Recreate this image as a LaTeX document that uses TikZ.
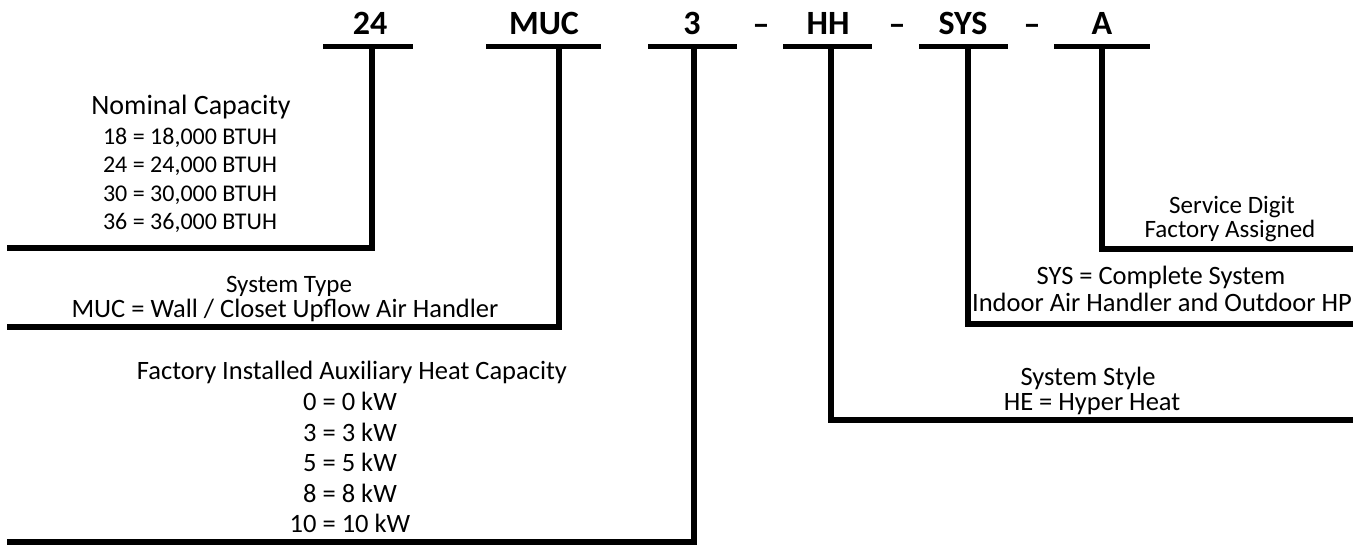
\documentclass[tikz,border=0pt]{standalone}
\usepackage{fontspec}
\setmainfont{Carlito}
\begin{document}
\begin{tikzpicture}[x=1pt,y=-1pt,
  code/.style={font=\fontsize{34}{40}\selectfont\bfseries, anchor=base, inner sep=0pt},
  desc/.style={font=\fontsize{#1}{#1}\selectfont, anchor=base, inner sep=0pt},
  desc/.default=26.5,
  bar/.style={line width=5.5pt},
  leader/.style={line width=6pt, line join=miter}]
\useasboundingbox (0,0) rectangle (1366,545);

% code characters
\node[code] (c24)  at (370,35)  {24};
\node[code] (cmuc) at (544,35)  {MUC};
\node[code] (c3)   at (692,35)  {3};
\node[code] (d1)   at (761,36)  {–};
\node[code] (chh)  at (828,35)  {HH};
\node[code] (d2)   at (897,36)  {–};
\node[code] (csys) at (963,35)  {SYS};
\node[code] (d3)   at (1032,36) {–};
\node[code] (ca)   at (1102,35) {A};

% underline bars
\coordinate (b24l) at (323,46.5);  \coordinate (b24r) at (413,46.5);
\coordinate (bmul) at (486,46.5);  \coordinate (bmur) at (601,46.5);
\coordinate (b3l)  at (648,46.5);  \coordinate (b3r)  at (737,46.5);
\coordinate (bhhl) at (783,46.5);  \coordinate (bhhr) at (872,46.5);
\coordinate (bsyl) at (919,46.5);  \coordinate (bsyr) at (1008,46.5);
\coordinate (bal)  at (1054,46.5); \coordinate (bar)  at (1150,46.5);
\draw[bar] (b24l) -- (b24r);
\draw[bar] (bmul) -- (bmur);
\draw[bar] (b3l) -- (b3r);
\draw[bar] (bhhl) -- (bhhr);
\draw[bar] (bsyl) -- (bsyr);
\draw[bar] (bal) -- (bar);

% leader lines
\coordinate (s24)  at (372,46.5);  \coordinate (e24)  at (7,248);
\coordinate (smu)  at (559,46.5);  \coordinate (emu)  at (7,327.5);
\coordinate (s3)   at (694,46.5);  \coordinate (e3)   at (7,541.5);
\coordinate (shh)  at (830.5,46.5);\coordinate (ehh)  at (1353,420);
\coordinate (ssy)  at (967.5,46.5);\coordinate (esy)  at (1353,324.5);
\coordinate (sa)   at (1102,46.5); \coordinate (ea)   at (1353,249.5);
\draw[leader] (s24) |- (e24);
\draw[leader] (smu) |- (emu);
\draw[leader] (s3)  |- (e3);
\draw[leader] (shh) |- (ehh);
\draw[leader] (ssy) |- (esy);
\draw[leader] (sa)  |- (ea);

% Nominal capacity
\node[desc=28] (nomh) at (191,115) {Nominal Capacity};
\node[desc=24] (nom1) at (190,145) {18 = 18,000 BTUH};
\node[desc=24] (nom2) at (190,173) {24 = 24,000 BTUH};
\node[desc=24] (nom3) at (190,202) {30 = 30,000 BTUH};
\node[desc=24] (nom4) at (190,230) {36 = 36,000 BTUH};

% System type
\node[desc=25] (typh) at (289,293) {System Type};
\node[desc]    (typ1) at (285,318) {MUC = Wall / Closet Upflow Air Handler};

% Aux heat
\node[desc] (auxh) at (352,380) {Factory Installed Auxiliary Heat Capacity};
\node[desc] (aux1) at (350,410) {0 = 0 kW};
\node[desc] (aux2) at (350,441) {3 = 3 kW};
\node[desc] (aux3) at (350,471) {5 = 5 kW};
\node[desc] (aux4) at (350,502) {8 = 8 kW};
\node[desc] (aux5) at (350,532) {10 = 10 kW};

% Service digit
\node[desc=25] (svch) at (1232,214) {Service Digit};
\node[desc=25] (svc1) at (1230,238) {Factory Assigned};

% Complete system
\node[desc] (sysh) at (1161,285) {SYS = Complete System};
\node[desc] (sys1) at (1162,312) {Indoor Air Handler and Outdoor HP};

% System style
\node[desc] (styh) at (1088,385) {System Style};
\node[desc] (sty1) at (1092,410) {HE = Hyper Heat};
\end{tikzpicture}
\end{document}
